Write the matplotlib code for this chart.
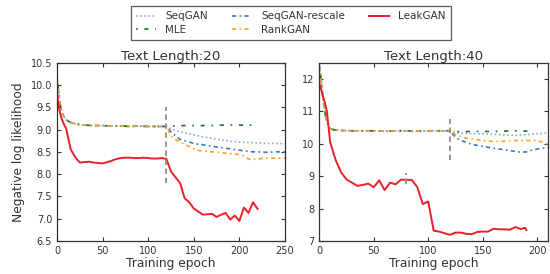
import matplotlib
matplotlib.use("Agg")
import matplotlib.pyplot as plt
import numpy as np

# ---- data: Text Length 20 ----
pre20_x = [0, 2, 4, 6, 8, 10, 15, 20, 25, 30, 40, 50, 60, 70, 80, 90, 100, 110, 120]
pre20_y = [10.2, 9.8, 9.5, 9.35, 9.28, 9.22, 9.16, 9.13, 9.11, 9.1, 9.09, 9.09, 9.08,
           9.08, 9.07, 9.08, 9.07, 9.07, 9.07]

seqgan20_x = [125, 130, 140, 150, 160, 170, 180, 190, 200, 210, 220, 230, 240, 250]
seqgan20_y = [9.02, 8.98, 8.93, 8.88, 8.84, 8.80, 8.77, 8.74, 8.72, 8.71, 8.70, 8.69, 8.69, 8.68]

mle20_x = [125, 130, 140, 150, 160, 170, 180, 190, 200, 210, 220]
mle20_y = [9.08, 9.08, 9.09, 9.09, 9.09, 9.09, 9.10, 9.10, 9.10, 9.10, 9.09]

rescale20_x = [125, 130, 135, 140, 145, 150, 155, 160, 165, 170, 175, 180, 185, 190,
               195, 200, 205, 210, 215, 220, 230, 240, 250]
rescale20_y = [8.95, 8.86, 8.78, 8.75, 8.72, 8.69, 8.67, 8.66, 8.64, 8.63, 8.61, 8.60,
               8.58, 8.57, 8.55, 8.54, 8.52, 8.51, 8.50, 8.50, 8.49, 8.50, 8.50]

rank20_x = [125, 130, 135, 140, 145, 150, 155, 160, 165, 170, 175, 180, 185, 190, 195,
            200, 205, 210, 215, 220, 225, 230, 240, 250]
rank20_y = [8.86, 8.78, 8.72, 8.66, 8.62, 8.57, 8.53, 8.52, 8.51, 8.50, 8.49, 8.48, 8.47,
            8.46, 8.45, 8.44, 8.41, 8.34, 8.33, 8.34, 8.35, 8.36, 8.36, 8.36]

leak20_x = [0, 3, 5, 8, 10, 15, 20, 25, 30, 35, 40, 45, 50, 55, 60, 65, 70, 75, 80, 85,
            90, 95, 100, 105, 110, 115, 120, 125, 130, 135, 140, 145, 150, 155, 160, 165,
            170, 175, 180, 185, 190, 195, 200, 205, 210, 215, 220]
leak20_y = [9.78, 9.4, 9.25, 9.1, 9.03, 8.56, 8.38, 8.26, 8.27, 8.28, 8.26, 8.25, 8.24,
            8.27, 8.30, 8.34, 8.36, 8.37, 8.37, 8.36, 8.36, 8.37, 8.36, 8.35, 8.35, 8.36,
            8.34, 8.06, 7.93, 7.80, 7.46, 7.37, 7.23, 7.16, 7.09, 7.10, 7.11, 7.04, 7.09,
            7.13, 6.98, 7.07, 6.95, 7.25, 7.13, 7.37, 7.22]

# ---- data: Text Length 40 ----
pre40_x = [0, 2, 3.5, 6, 8, 10, 15, 20, 30, 40, 50, 60, 70, 80, 90, 100, 110, 120]
pre40_y = [12.4, 11.9, 11.35, 10.8, 10.6, 10.46, 10.42, 10.41, 10.40, 10.40, 10.40,
           10.39, 10.40, 10.40, 10.39, 10.40, 10.40, 10.40]

seqgan40_x = [125, 130, 140, 150, 160, 170, 180, 190, 200, 210]
seqgan40_y = [10.35, 10.33, 10.31, 10.31, 10.29, 10.27, 10.26, 10.28, 10.31, 10.33]

mle40_x = [125, 130, 140, 150, 160, 170, 180, 190, 195]
mle40_y = [10.38, 10.37, 10.38, 10.38, 10.38, 10.39, 10.40, 10.39, 10.38]

rescale40_x = [125, 130, 140, 150, 160, 170, 180, 185, 190, 195, 200, 210]
rescale40_y = [10.2, 10.1, 9.98, 9.92, 9.86, 9.82, 9.76, 9.74, 9.75, 9.80, 9.84, 9.88]

rank40_x = [125, 130, 135, 140, 150, 160, 170, 180, 190, 200, 205, 210]
rank40_y = [10.28, 10.22, 10.17, 10.15, 10.10, 10.07, 10.08, 10.10, 10.10, 10.10, 10.05, 9.98]

leak40_x = [0, 5, 7, 10, 15, 20, 25, 30, 35, 40, 45, 50, 55, 60, 65, 70, 75, 80, 85, 90,
            95, 100, 105, 110, 115, 120, 125, 130, 135, 140, 145, 150, 155, 160, 165,
            170, 175, 180, 185, 189, 190]
leak40_y = [11.88, 11.28, 11.0, 10.05, 9.5, 9.12, 8.9, 8.8, 8.7, 8.73, 8.77, 8.66, 8.87,
            8.57, 8.8, 8.75, 8.89, 8.89, 8.88, 8.66, 8.14, 8.22, 7.32, 7.29, 7.24, 7.19,
            7.26, 7.26, 7.22, 7.21, 7.28, 7.29, 7.29, 7.38, 7.36, 7.36, 7.35, 7.43, 7.37,
            7.41, 7.34]

# dashed markers: (epoch, y_low, y_high)
marks20 = [(120, 7.8, 9.5)]
marks40 = [(120, 9.5, 10.75), (80, 8.75, 9.1)]

c_seqgan = "#8fa8dc"
c_mle = "#1f6b2e"
c_rescale = "#3a78c9"
c_rank = "#ffa31a"
c_leak = "#e8202a"

plt.rcParams["font.family"] = "DejaVu Sans"
plt.rcParams["text.color"] = "0.2"
plt.rcParams["axes.labelcolor"] = "0.2"
plt.rcParams["xtick.color"] = "0.2"
plt.rcParams["ytick.color"] = "0.2"

fig = plt.figure(figsize=(5.5, 2.74), dpi=100)
ax1 = fig.add_axes([0.1036, 0.1204, 0.4145, 0.6507])
ax2 = fig.add_axes([0.5805, 0.1204, 0.4160, 0.6507])


def draw(ax, pre_x, pre_y, sx, sy, mx, my, rx, ry, kx, ky, lx, ly, marks):
    s_ls = (0, (1, 1.5))
    m_ls = (0, (1, 4, 2.5, 4))
    r_ls = (0, (2.5, 2, 1, 2))
    h1, = ax.plot(pre_x + sx, pre_y + sy, color=c_seqgan, ls=s_ls, lw=1.2)
    h2, = ax.plot(pre_x + mx, pre_y + my, color=c_mle, ls=m_ls, lw=1.2)
    h3, = ax.plot(pre_x + rx, pre_y + ry, color=c_rescale, ls=r_ls, lw=1.2)
    h4, = ax.plot(pre_x + kx, pre_y + ky, color=c_rank, ls=r_ls, lw=1.2)
    h5, = ax.plot(lx, ly, color=c_leak, lw=1.4)
    for ex, lo, hi in marks:
        ax.plot([ex, ex], [lo, hi], color="0.55", ls=(0, (3, 2)), lw=1.3)
    ax.tick_params(direction="in", top=True, right=True, length=3, labelsize=7)
    for sp in ax.spines.values():
        sp.set_color("0.2")
        sp.set_linewidth(0.9)
    ax.set_xlabel("Training epoch", fontsize=8.8, labelpad=1)
    return [h1, h2, h3, h4, h5]


handles = draw(ax1, pre20_x, pre20_y, seqgan20_x, seqgan20_y, mle20_x, mle20_y,
               rescale20_x, rescale20_y, rank20_x, rank20_y, leak20_x, leak20_y, marks20)
draw(ax2, pre40_x, pre40_y, seqgan40_x, seqgan40_y, mle40_x, mle40_y,
     rescale40_x, rescale40_y, rank40_x, rank40_y, leak40_x, leak40_y, marks40)

ax1.set_xlim(0, 250)
ax1.set_ylim(6.5, 10.5)
ax1.set_xticks(np.arange(0, 251, 50))
ax1.set_yticks(np.arange(6.5, 10.51, 0.5))
ax1.yaxis.set_major_formatter(matplotlib.ticker.FormatStrFormatter("%.1f"))
ax1.set_ylabel("Negative log likelihood", fontsize=8.8)
ax1.set_title("Text Length:20", fontsize=9.6, pad=2)

ax2.set_xlim(0, 210)
ax2.set_ylim(7, 12.5)
ax2.set_xticks(np.arange(0, 201, 50))
ax2.set_yticks(np.arange(7, 12.1, 1))
ax2.set_title("Text Length:40", fontsize=9.6, pad=2)

labels = ["SeqGAN", "MLE", "SeqGAN-rescale", "RankGAN", "LeakGAN"]
leg = fig.legend(handles, labels, ncol=3, loc="upper left",
                 bbox_to_anchor=(0.238, 0.978), fontsize=7.5, frameon=True,
                 fancybox=False, edgecolor="0.2", handlelength=1.9,
                 handletextpad=0.9, columnspacing=2.3, borderpad=0.5,
                 labelspacing=0.35, borderaxespad=0)
leg.get_frame().set_linewidth(0.9)

fig.savefig("out.png", dpi=100)
